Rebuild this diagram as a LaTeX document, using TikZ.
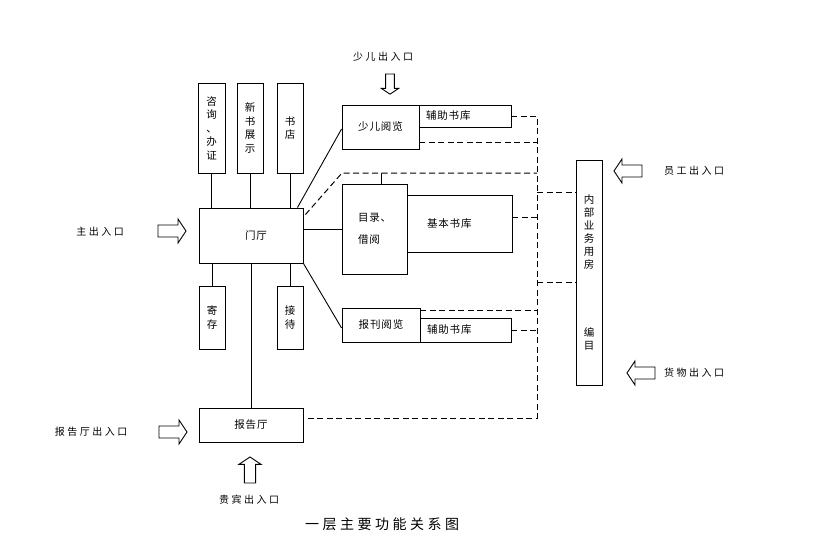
\documentclass[tikz,border=0pt]{standalone}
\usepackage{fontspec}
\setmainfont{Noto Sans CJK SC}[LetterSpace=8]
\newfontfamily\widecjk{Noto Sans CJK SC}[LetterSpace=25]
\tikzset{
  room/.style={draw,inner sep=0pt,align=center,font=\fontsize{10.5}{13.5}\selectfont},
  dashline/.style={line width=1pt,dash pattern=on 6pt off 3.5pt},
  entry/.style={font=\widecjk\fontsize{10}{12}\selectfont},
  pics/blkarrow/.style={code={
    \draw[fill=white] (0,-6)--(20,-6)--(20,-12)--(28,0)--(20,12)--(20,6)--(0,6)--cycle;}}
}
\begin{document}
\begin{tikzpicture}[x=1pt,y=-1pt,line width=0.9pt]
\useasboundingbox (0,0) rectangle (816,544);
% rooms
\node[room,minimum width=27,minimum height=90] (zx) at (211.5,128) {咨\\询\\、\\办\\证};
\node[room,minimum width=26,minimum height=90] (xs) at (250,128) {新\\书\\展\\示};
\node[room,minimum width=26,minimum height=90] (sd) at (290,128) {书\\店};
\node[room,minimum width=104,minimum height=55] (mt) at (251,235.5) {\hspace*{10pt}门厅};
\node[room,minimum width=26,minimum height=63] (jc) at (212,317.5) {寄\\存};
\node[room,minimum width=26,minimum height=63] (jd) at (290,317.5) {接\\待};
\node[room,minimum width=104,minimum height=34] (bg) at (251,425) {报告厅};
\node[room,minimum width=77,minimum height=44] (se) at (380.5,127) {少儿阅览};
\node[room,minimum width=92,minimum height=22,text width=78,inner xsep=7pt,align=left] (fz1) at (465,116) {辅助书库};
\node[room,minimum width=65,minimum height=90,text width=33,inner xsep=16pt,align=left,font=\fontsize{10.5}{22}\selectfont] (ml) at (374.5,229) {目录、\\借阅};
\node[room,minimum width=105,minimum height=57,text width=65,inner xsep=20pt,align=left] (jb) at (459.5,223.5) {基本书库};
\node[room,minimum width=78,minimum height=34] (bk) at (381,325) {报刊阅览};
\node[room,minimum width=91,minimum height=24,text width=77,inner xsep=7pt,align=left] (fz2) at (465.5,330) {辅助书库};
\node[room,minimum width=26,minimum height=225,font=\fontsize{10.5}{13}\selectfont] (nb) at (589,272.5) {内\\部\\业\\务\\用\\房\\[55pt]编\\目};
% solid links
\draw (zx.south) -- (zx.south |- mt.north);
\draw (xs.south) -- (xs.south |- mt.north);
\draw (sd.south) -- (sd.south |- mt.north);
\draw (jc.north) -- (jc.north |- mt.south);
\draw (jd.north) -- (jd.north |- mt.south);
\draw (mt.south) -- (bg.north);
\draw ([xshift=-6pt]mt.north east) -- ([yshift=-2pt]se.west);
\draw (mt.east |- ml.west) -- (ml.west);
\draw (mt.south east) -- ([yshift=-3pt]bk.west);
% dashed links
\coordinate (sp) at (537,0);
\coordinate (d0) at ([xshift=2pt,yshift=-7pt]mt.north east);
\coordinate (d1) at (342,173);
\coordinate (d2) at ([yshift=-15pt]se.east);
\coordinate (d3) at ([yshift=6pt]jb.east);
\coordinate (d4) at ([yshift=-3pt]bk.north east);
\coordinate (d5) at ([yshift=7pt]bg.east);
\coordinate (n1) at ([yshift=-33pt]nb.north west);
\coordinate (n2) at ([yshift=-123pt]nb.north west);
\coordinate (ml1) at ([xshift=6.5pt]ml.north);
\draw (ml1) -- (ml1 |- d1);
\draw[dashline] (fz1.east) -| (d5 -| sp) -- (d5);
\draw[dashline] (d0) -- (d1) -- (d1 -| sp);
\draw[dashline] (d2) -- (d2 -| sp);
\draw[dashline] (d3) -- (d3 -| sp);
\draw[dashline] (d4) -- (d4 -| sp);
\draw[dashline] (fz2.east) -- (fz2.east -| sp);
\draw[dashline] (n1 -| sp) -- (n1);
\draw[dashline] (n2 -| sp) -- (n2);
% entrances
\pic at (158,231) {blkarrow};
\pic at (159,432) {blkarrow};
\pic[rotate=-90,scale=0.72] at (390,74) {blkarrow};
\pic[rotate=90,scale=0.93] at (250,483) {blkarrow};
\pic[rotate=180] at (642,171) {blkarrow};
\pic[rotate=180] at (655,373) {blkarrow};
\node[entry] (e1) at (100,232) {主出入口};
\node[entry] (e2) at (91,432) {报告厅出入口};
\node[entry] (e3) at (249,500) {贵宾出入口};
\node[entry] (e4) at (383,57) {少儿出入口};
\node[entry] (e5) at (694,171) {员工出入口};
\node[entry] (e6) at (694,373) {货物出入口};
\node[font=\widecjk\fontsize{14}{16}\selectfont] (title) at (382,524) {一层主要功能关系图};
\end{tikzpicture}
\end{document}
